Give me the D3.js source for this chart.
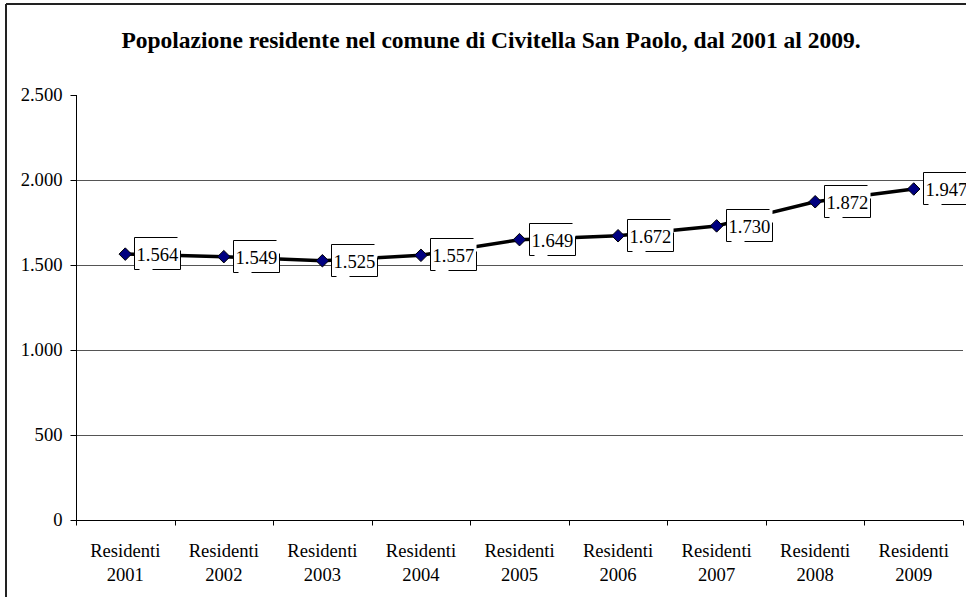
<!DOCTYPE html>
<html><head><meta charset="utf-8">
<script src="https://cdn.jsdelivr.net/npm/d3@7"></script>
<style>body{margin:0;background:#fff}svg{display:block}text{font-family:"Liberation Serif","Times New Roman",serif}</style>
</head><body>
<svg id="c" width="966" height="597"></svg>
<script>
const categories = ["2001","2002","2003","2004","2005","2006","2007","2008","2009"];
const values = [1564,1549,1525,1557,1649,1672,1730,1872,1947];
const yTicks = [0,500,1000,1500,2000,2500];
const title = "Popolazione residente nel comune di Civitella San Paolo, dal 2001 al 2009.";

const FS = 18.6;
const svg = d3.select("#c");
const fmt = v => d3.format(",")(v).replace(/,/g,".");
// outer border
svg.append("line").attr("x1",6).attr("x2",966).attr("y1",4).attr("y2",4).attr("stroke","#222").attr("stroke-width",2);
svg.append("line").attr("x1",6).attr("x2",6).attr("y1",4).attr("y2",597).attr("stroke","#222").attr("stroke-width",2);

svg.append("text").attr("x",491).attr("y",48).attr("text-anchor","middle")
  .attr("font-weight","bold").attr("font-size",23.5).text(title);

const x = d3.scaleBand().domain(categories).range([76,963]);
const y = d3.scaleLinear().domain([0,2500]).range([520,95]);

const g = svg.append("g");
// gridlines
g.selectAll("line.grid").data(yTicks.filter(t=>t>0 && t<2500)).join("line")
  .attr("x1",76).attr("x2",963).attr("y1",d=>Math.round(y(d))+0.5).attr("y2",d=>Math.round(y(d))+0.5)
  .attr("stroke","#555").attr("stroke-width",1);

const yAxis = g.append("g").attr("transform","translate(76.5,0)")
  .call(d3.axisLeft(y).tickValues(yTicks).tickSize(6).tickPadding(8).tickFormat(fmt));
yAxis.select(".domain").attr("stroke","#000").attr("d","M0,95V520");
yAxis.selectAll("text").attr("font-size",FS).attr("font-family","Liberation Serif").attr("fill","#000");

const xAxis = g.append("g").attr("transform","translate(0,520.5)");
xAxis.append("line").attr("x1",76).attr("x2",963).attr("stroke","#000");
xAxis.selectAll("line.tk").data(categories.concat(["end"])).join("line")
  .attr("x1",(d,i)=>Math.round(76+i*x.bandwidth())+0.5).attr("x2",(d,i)=>Math.round(76+i*x.bandwidth())+0.5)
  .attr("y1",0).attr("y2",5).attr("stroke","#000");
const xl = xAxis.selectAll("text.lab").data(categories).join("text")
  .attr("x",d=>x(d)+x.bandwidth()/2).attr("text-anchor","middle").attr("font-size",FS);
xl.append("tspan").attr("x",d=>x(d)+x.bandwidth()/2).attr("y",36).text("Residenti");
xl.append("tspan").attr("x",d=>x(d)+x.bandwidth()/2).attr("y",60).text(d=>d);

const cx = d => x(d)+x.bandwidth()/2;
const line = d3.line().x((d,i)=>cx(categories[i])).y(d=>y(d));
g.append("path").datum(values).attr("d",line).attr("fill","none").attr("stroke","#000").attr("stroke-width",3.5);

// labels
svg.append("defs").append("clipPath").attr("id","clp").append("rect").attr("x",0).attr("y",0).attr("width",966).attr("height",597);
const lab = g.append("g").attr("clip-path","url(#clp)");
values.forEach((v,i)=>{
  const px = cx(categories[i]), py = y(v);
  const L = Math.round(px+9)+0.5, T = Math.round(py-17)+0.5, W=46, H=32;
  const lg = lab.append("g");
  lg.append("rect").attr("x",L).attr("y",T).attr("width",W).attr("height",H).attr("fill","#fff");
  const segs = [[L,T,L,T+H],[L,T,L+W-3,T],[L+W,T+13,L+W,T+H],[L,T+H,L+5,T+H],[L+18,T+H,L+W,T+H]];
  segs.forEach(s=>lg.append("line").attr("x1",s[0]).attr("y1",s[1]).attr("x2",s[2]).attr("y2",s[3]).attr("stroke","#000").attr("stroke-width",1));
  lg.append("text").attr("x",L+2).attr("y",py+7).attr("font-size",FS).text(fmt(v));
});

// markers
g.selectAll("path.mk").data(values).join("path")
  .attr("d",d3.symbol().type(d3.symbolDiamond2).size(100))
  .attr("transform",(d,i)=>`translate(${cx(categories[i])},${y(d)})`)
  .attr("fill","#000080").attr("stroke","#000").attr("stroke-width",1);
</script>
</body></html>
